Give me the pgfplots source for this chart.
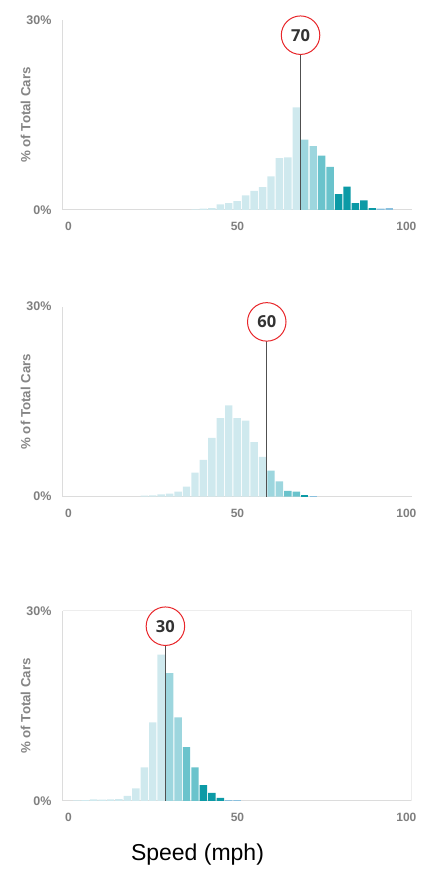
\documentclass[border=0pt]{standalone}
\usepackage{fontspec}
\setmainfont{Liberation Sans}
\newfontfamily\circfont{Open Sans}
\usepackage{pgfplots}
\pgfplotsset{compat=1.18}
\definecolor{cL}{HTML}{CFE9EE}
\definecolor{cM}{HTML}{9DD6DE}
\definecolor{cMD}{HTML}{6AC3CC}
\definecolor{cD}{HTML}{0C9AA6}
\definecolor{cB}{HTML}{8AC0DE}
\definecolor{axgray}{HTML}{DCDCDC}
\definecolor{framegray}{HTML}{EDEDED}
\definecolor{tickgray}{HTML}{7F7F7F}
\definecolor{labgray}{HTML}{858585}
\definecolor{limgray}{HTML}{505050}
\definecolor{circred}{HTML}{E8262A}
\definecolor{numgray}{HTML}{333333}
\tikzset{
  limcirc/.style={circle, draw=circred, fill=white, line width=1pt, minimum size=38.5pt, inner sep=0pt, text=numgray, font=\circfont\fontsize{16.5}{18}\selectfont\bfseries},
}
\pgfplotsset{
  panel/.style={
    scale only axis, width=349pt, height=190pt,
    xmin=-0.4, xmax=102.9, ymin=0, ymax=30,
    axis lines=left,
    axis line style={-, draw=axgray, line width=1pt},
    major tick length=0pt, tick style={draw=none},
    xtick={0,50,100}, ytick={0,30}, yticklabels={0\%,30\%},
    /pgf/number format/assume math mode=true,
    xticklabel style={font=\fontsize{12}{14}\selectfont\bfseries, text=tickgray, yshift=-8.5pt, xshift=4.5pt},
    yticklabel style={font=\fontsize{12.5}{14}\selectfont\bfseries, text=tickgray, xshift=-7.7pt},
    ylabel={\% of Total Cars},
    ylabel style={at={(axis description cs:-0.106,0.5)}, anchor=center, font=\fontsize{13.3}{15}\selectfont\bfseries, text=labgray},
    clip=false,
    anchor=south west,
  },
  bars/.style={ybar, bar width=2.2, bar shift=0pt, draw=none, fill=#1},
  limline/.style={draw=limgray, line width=1.1pt, mark=none},
}
\begin{document}
\begin{tikzpicture}
\path[use as bounding box] (0,0) rectangle (429pt,869pt);
% Panel 1 : limit 70
\begin{axis}[panel, at={(62.7pt,659pt)}]
\addplot[bars=cL] coordinates {(38.75,0.1) (41.25,0.2) (43.75,0.3) (46.25,0.9) (48.75,1.1) (51.25,1.4) (53.75,2.3) (56.25,3.0) (58.75,3.6) (61.25,5.3) (63.75,8.2) (66.25,8.3) (68.75,16.2)};
\addplot[bars=cM] coordinates {(71.25,11.1) (73.75,10.1)};
\addplot[bars=cMD] coordinates {(76.25,8.6) (78.75,6.8)};
\addplot[bars=cD] coordinates {(81.25,2.5) (83.75,3.7) (86.25,1.1) (88.75,1.5) (91.25,0.3)};
\addplot[bars=cB] coordinates {(93.75,0.2) (96.25,0.3)};
\addplot[limline] coordinates {(70,0) (70,27.6)};
\node[limcirc] at (axis cs:70,27.6) {70};
\end{axis}
% Panel 2 : limit 60
\begin{axis}[panel, at={(62.7pt,372.3pt)}]
\addplot[bars=cL] coordinates {(23.75,0.15) (26.25,0.2) (28.75,0.35) (31.25,0.5) (33.75,0.8) (36.25,1.6) (38.75,3.8) (41.25,5.8) (43.75,9.3) (46.25,12.4) (48.75,14.4) (51.25,12.4) (53.75,12.0) (56.25,8.6) (58.75,6.3)};
\addplot[bars=cM] coordinates {(61.25,4.1) (63.75,2.4)};
\addplot[bars=cMD] coordinates {(66.25,0.9) (68.75,0.8)};
\addplot[bars=cD] coordinates {(71.25,0.3)};
\addplot[bars=cB] coordinates {(73.75,0.15)};
\addplot[limline] coordinates {(60,0) (60,27.6)};
\node[limcirc] at (axis cs:60,27.6) {60};
\end{axis}
% Panel 3 : limit 30
\begin{axis}[panel, at={(62.7pt,68pt)}]
\draw[framegray, line width=1pt] (rel axis cs:0,1) -- (rel axis cs:1,1) -- (rel axis cs:1,0);
\addplot[bars=cL] coordinates {(3.75,0.1) (6.25,0.15) (8.75,0.25) (11.25,0.2) (13.75,0.25) (16.25,0.3) (18.75,0.8) (21.25,2.0) (23.75,5.3) (26.25,12.4) (28.75,23.1)};
\addplot[bars=cM] coordinates {(31.25,20.2) (33.75,13.2)};
\addplot[bars=cMD] coordinates {(36.25,8.5) (38.75,5.3)};
\addplot[bars=cD] coordinates {(41.25,2.5) (43.75,1.3) (46.25,0.5)};
\addplot[bars=cB] coordinates {(48.75,0.15) (51.25,0.15)};
\addplot[limline] coordinates {(30,0) (30,27.6)};
\node[limcirc] at (axis cs:30,27.6) {30};
\end{axis}
\node[font=\fontsize{23}{26}\selectfont, text=black] at (197.5pt,14.5pt) {Speed (mph)};
\end{tikzpicture}
\end{document}
